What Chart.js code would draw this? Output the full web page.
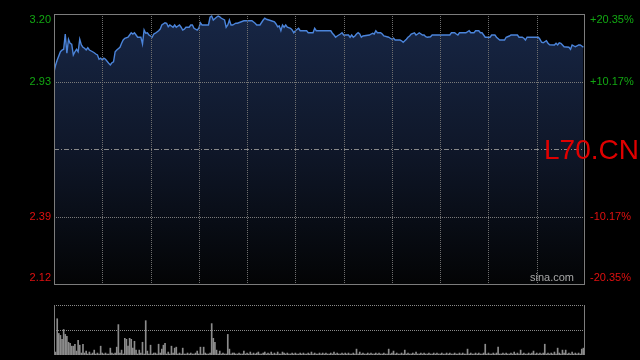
<!DOCTYPE html>
<html>
<head>
<meta charset="utf-8">
<script src="https://cdn.jsdelivr.net/npm/chart.js@4.4.1/dist/chart.umd.min.js"></script>
<style>
html, body { margin: 0; padding: 0; background: #000; }
#wrap { position: relative; width: 640px; height: 360px; overflow: hidden; background: #000; }
canvas { position: absolute; left: 0; }
#price { top: 0; }
#vol { top: 295px; }
</style>
</head>
<body>
<div id="wrap">
  <canvas id="price" width="640" height="295"></canvas>
  <canvas id="vol" width="640" height="65"></canvas>
</div>
<script>
// Dados do grafico (minuto do pregao -> preco)
const priceMinutes = [
  0, 1, 2, 4, 5, 6, 7, 8, 9, 10, 11, 12, 13, 14, 15, 16, 17, 18, 19, 20, 21, 22, 24, 25, 26, 27, 28, 29,
  30, 31, 32, 34, 35, 36, 37, 38, 39, 41, 42, 43, 44, 46, 47, 48, 49, 50, 51, 52, 54, 55, 56, 57, 58, 59,
  60, 61, 62, 63, 65, 66, 67, 69, 70, 71, 72, 74, 75, 76, 78, 79, 80, 81, 82, 84, 85, 86, 87, 89,
  90, 91, 92, 96, 97, 98, 99, 101, 102, 103, 104, 106, 107, 108, 109, 110, 111, 113, 114, 118,
  123, 125, 126, 128, 130, 131, 132, 135, 137, 138, 139, 140, 141, 142, 143, 144, 145, 147, 148, 149,
  150, 152, 153, 157, 158, 161, 162, 163, 172, 173, 174, 175, 176, 178, 179,
  180, 183, 184, 185, 186, 187, 188, 189, 190, 191, 192, 196, 198, 199, 200, 201, 203, 204, 205, 208, 209,
  210, 211, 212, 215, 216, 217, 219, 220, 221, 222, 224, 225, 226, 227, 229, 230, 231, 232, 234, 235,
  246, 247, 249, 250, 251, 252, 256, 258, 259, 261, 262, 264, 265, 266, 267, 268,
  271, 272, 274, 275, 277, 280, 281, 283, 284, 288, 289, 291, 292, 293, 294,
  301, 302, 303, 304, 306, 307, 308, 311, 312, 313, 314, 315, 316, 317, 320, 321, 322, 324, 325, 326, 327, 328, 329
];
const priceValues = [
  2.969, 2.996, 3.016, 3.049, 3.056, 3.059, 3.120, 3.043, 3.099, 3.083, 3.079, 3.036, 3.049, 3.059, 3.049, 3.099, 3.076, 3.067, 3.063, 3.056, 3.065, 3.056, 3.049, 3.045, 3.040, 3.036, 3.019, 3.023,
  3.016, 3.023, 3.019, 3.003, 2.996, 3.005, 3.009, 3.049, 3.056, 3.067, 3.083, 3.096, 3.103, 3.107, 3.116, 3.125, 3.120, 3.125, 3.116, 3.107, 3.107, 3.080, 3.136, 3.123, 3.125, 3.116,
  3.112, 3.107, 3.120, 3.123, 3.133, 3.140, 3.156, 3.165, 3.163, 3.149, 3.156, 3.147, 3.156, 3.147, 3.156, 3.147, 3.136, 3.139, 3.147, 3.147, 3.156, 3.156, 3.143, 3.136,
  3.143, 3.165, 3.156, 3.156, 3.187, 3.192, 3.176, 3.187, 3.192, 3.189, 3.183, 3.176, 3.147, 3.156, 3.176, 3.156, 3.156, 3.163, 3.163, 3.173,
  3.173, 3.163, 3.156, 3.156, 3.176, 3.183, 3.179, 3.173, 3.169, 3.160, 3.149, 3.152, 3.133, 3.156, 3.147, 3.156, 3.147, 3.143, 3.136, 3.125,
  3.133, 3.143, 3.133, 3.133, 3.125, 3.125, 3.143, 3.133, 3.133, 3.123, 3.116, 3.107, 3.112, 3.120, 3.125,
  3.116, 3.116, 3.107, 3.116, 3.107, 3.112, 3.120, 3.125, 3.120, 3.107, 3.112, 3.116, 3.123, 3.120, 3.133, 3.125, 3.125, 3.120, 3.112, 3.107, 3.103,
  3.099, 3.103, 3.096, 3.096, 3.093, 3.087, 3.099, 3.107, 3.112, 3.120, 3.125, 3.116, 3.120, 3.125, 3.116, 3.116, 3.109, 3.107, 3.109, 3.116,
  3.116, 3.125, 3.125, 3.120, 3.116, 3.125, 3.125, 3.133, 3.125, 3.125, 3.133, 3.133, 3.125, 3.125, 3.116, 3.107,
  3.107, 3.116, 3.116, 3.107, 3.096, 3.096, 3.107, 3.112, 3.116, 3.116, 3.107, 3.107, 3.103, 3.096, 3.107,
  3.107, 3.099, 3.087, 3.085, 3.093, 3.083, 3.077, 3.076, 3.083, 3.076, 3.085, 3.083, 3.076, 3.069, 3.067, 3.059, 3.076, 3.069, 3.072, 3.076, 3.076, 3.072, 3.067
];

// Volume por minuto (mil acoes), 30 minutos por linha
const volumes = [
  510, 30, 370, 220, 200, 160, 260, 210, 190, 130, 120, 90, 90, 110, 40, 150, 100, 20, 110, 20, 40, 10, 30, 10, 20, 50, 10, 20, 10, 90,
  20, 10, 20, 10, 10, 70, 20, 10, 20, 80, 310, 20, 50, 10, 170, 160, 90, 170, 160, 70, 140, 50, 10, 50, 20, 130, 10, 350, 40, 10,
  100, 10, 20, 20, 10, 110, 20, 60, 100, 120, 10, 30, 10, 90, 20, 70, 80, 10, 20, 10, 70, 10, 10, 20, 10, 20, 10, 10, 20, 40,
  10, 80, 10, 80, 20, 10, 10, 20, 320, 170, 130, 50, 10, 40, 10, 20, 10, 10, 210, 60, 10, 20, 20, 10, 10, 20, 10, 10, 40, 10,
  20, 10, 30, 10, 20, 10, 20, 30, 10, 10, 20, 30, 10, 20, 10, 30, 10, 20, 10, 30, 10, 10, 30, 20, 10, 20, 10, 10, 20, 10,
  20, 10, 10, 20, 10, 20, 10, 10, 20, 10, 30, 10, 20, 10, 10, 20, 10, 20, 10, 20, 10, 10, 20, 10, 30, 10, 20, 10, 10, 20,
  10, 20, 10, 20, 10, 10, 20, 10, 60, 10, 30, 10, 20, 10, 10, 20, 10, 20, 10, 10, 20, 10, 20, 10, 10, 20, 10, 10, 60, 10,
  20, 40, 10, 20, 10, 10, 20, 10, 50, 10, 20, 10, 10, 20, 10, 30, 10, 10, 20, 10, 20, 10, 10, 20, 10, 10, 20, 10, 20, 10,
  10, 20, 10, 10, 20, 10, 20, 10, 10, 20, 10, 10, 20, 10, 20, 10, 10, 60, 10, 20, 10, 10, 20, 10, 20, 10, 10, 20, 110, 10,
  20, 10, 10, 20, 10, 20, 80, 10, 10, 20, 10, 20, 10, 10, 20, 10, 30, 10, 20, 10, 50, 10, 20, 10, 10, 20, 10, 20, 40, 10,
  20, 10, 20, 10, 20, 110, 10, 20, 10, 20, 10, 30, 10, 70, 20, 10, 50, 20, 50, 10, 20, 10, 30, 10, 20, 10, 20, 10, 60, 70
];

const priceTicks = [3.20, 2.93, 2.66, 2.39, 2.12];
const priceLabels = ['3.20', '2.93', '', '2.39', '2.12'];
const pctLabels = ['+20.35%', '+10.17%', '', '-10.17%', '-20.35%'];
const prevClose = 2.66;
const timeGrid = [30, 60, 90, 120, 150, 180, 210, 240, 270, 300];
const totalMinutes = 330;
const volMax = 510;

const FONT = '"Liberation Sans", Arial, sans-serif';
const GREEN = '#12a812';
const RED = '#e01010';

// Grade, moldura e textos do grafico de preco
const priceFrame = {
    id: 'priceFrame',
    afterDatasetsDraw(chart) {
        const { ctx, chartArea: a, scales: { x, y } } = chart;
        ctx.save();
        ctx.lineWidth = 1;

        // linhas verticais pontilhadas
        ctx.strokeStyle = '#6e6e6e';
        ctx.setLineDash([1, 1]);
        timeGrid.forEach(m => {
            const px = Math.round(x.getPixelForValue(m)) + 0.5;
            ctx.beginPath();
            ctx.moveTo(px, a.top);
            ctx.lineTo(px, a.bottom);
            ctx.stroke();
        });

        // linhas horizontais
        priceTicks.forEach(v => {
            if (v === priceTicks[0] || v === priceTicks[priceTicks.length - 1]) return;
            const py = Math.round(y.getPixelForValue(v)) + 0.5;
            ctx.strokeStyle = v === prevClose ? '#8a8a8a' : '#7a7a7a';
            ctx.setLineDash(v === prevClose ? [5, 2, 1, 2] : [1, 1]);
            ctx.beginPath();
            ctx.moveTo(a.left, py);
            ctx.lineTo(a.right, py);
            ctx.stroke();
        });

        // moldura
        ctx.setLineDash([]);
        ctx.strokeStyle = '#7c7c7c';
        ctx.strokeRect(Math.round(a.left) + 0.5, Math.round(a.top) + 0.5,
            Math.round(a.width) - 1, Math.round(a.height));

        // rotulos
        ctx.font = '11px ' + FONT;
        ctx.textBaseline = 'middle';
        priceTicks.forEach((v, i) => {
            if (!priceLabels[i]) return;
            let py = y.getPixelForValue(v);
            py = Math.min(Math.max(py, a.top + 6), a.bottom - 6);
            ctx.fillStyle = v > prevClose ? GREEN : RED;
            ctx.textAlign = 'right';
            ctx.fillText(priceLabels[i], a.left - 3, py);
            ctx.textAlign = 'left';
            ctx.fillText(pctLabels[i], a.right + 5, py);
        });

        ctx.fillStyle = '#a8a8a8';
        ctx.font = '11px ' + FONT;
        ctx.textAlign = 'right';
        ctx.fillText('sina.com', a.right - 11, a.bottom - 6);

        ctx.fillStyle = '#e00000';
        ctx.font = '28px ' + FONT;
        ctx.textAlign = 'left';
        ctx.textBaseline = 'alphabetic';
        ctx.fillText('L70.CN', 544, y.getPixelForValue(prevClose) + 10);
        ctx.restore();
    }
};

// Grade do grafico de volume
const volFrame = {
    id: 'volFrame',
    afterDatasetsDraw(chart) {
        const { ctx, chartArea: a, scales: { y } } = chart;
        ctx.save();
        ctx.lineWidth = 1;
        ctx.strokeStyle = '#8a8a8a';
        ctx.setLineDash([1, 1]);
        [volMax, volMax / 2].forEach(v => {
            const py = Math.round(y.getPixelForValue(v)) + 0.5;
            ctx.beginPath();
            ctx.moveTo(a.left, py);
            ctx.lineTo(a.right, py);
            ctx.stroke();
        });
        ctx.setLineDash([]);
        ctx.strokeStyle = '#7c7c7c';
        [a.left, a.right - 1].forEach(px => {
            ctx.beginPath();
            ctx.moveTo(Math.round(px) + 0.5, a.top);
            ctx.lineTo(Math.round(px) + 0.5, a.bottom);
            ctx.stroke();
        });
        ctx.restore();
    }
};

new Chart(document.getElementById('price'), {
    type: 'line',
    data: {
        datasets: [{
            data: priceMinutes.map((m, i) => ({ x: m, y: priceValues[i] })),
            borderColor: '#4b84da',
            borderWidth: 1.4,
            pointRadius: 0,
            tension: 0,
            fill: 'start',
            backgroundColor: function(context) {
                const a = context.chart.chartArea;
                if (!a) return '#14213a';
                const g = context.chart.ctx.createLinearGradient(0, a.top, 0, a.bottom);
                g.addColorStop(0, '#172645');
                g.addColorStop(0.5, '#0f1729');
                g.addColorStop(1, '#030405');
                return g;
            }
        }]
    },
    options: {
        responsive: false,
        animation: false,
        devicePixelRatio: 1,
        layout: { padding: { left: 54, right: 55, top: 14, bottom: 11 } },
        plugins: { legend: { display: false }, tooltip: { enabled: false } },
        scales: {
            x: { type: 'linear', min: 0, max: totalMinutes, display: false },
            y: { min: priceTicks[priceTicks.length - 1], max: priceTicks[0], display: false }
        }
    },
    plugins: [priceFrame]
});

new Chart(document.getElementById('vol'), {
    type: 'bar',
    data: {
        datasets: [{
            data: volumes.map((v, m) => ({ x: m, y: v })),
            backgroundColor: '#8c8c8c',
            barThickness: 1,
            borderWidth: 0
        }]
    },
    options: {
        responsive: false,
        animation: false,
        devicePixelRatio: 1,
        layout: { padding: { left: 54, right: 55, top: 10, bottom: 5 } },
        plugins: { legend: { display: false }, tooltip: { enabled: false } },
        scales: {
            x: { type: 'linear', min: 0, max: totalMinutes, offset: false, display: false },
            y: { min: 0, max: volMax, display: false }
        }
    },
    plugins: [volFrame]
});
</script>
</body>
</html>
